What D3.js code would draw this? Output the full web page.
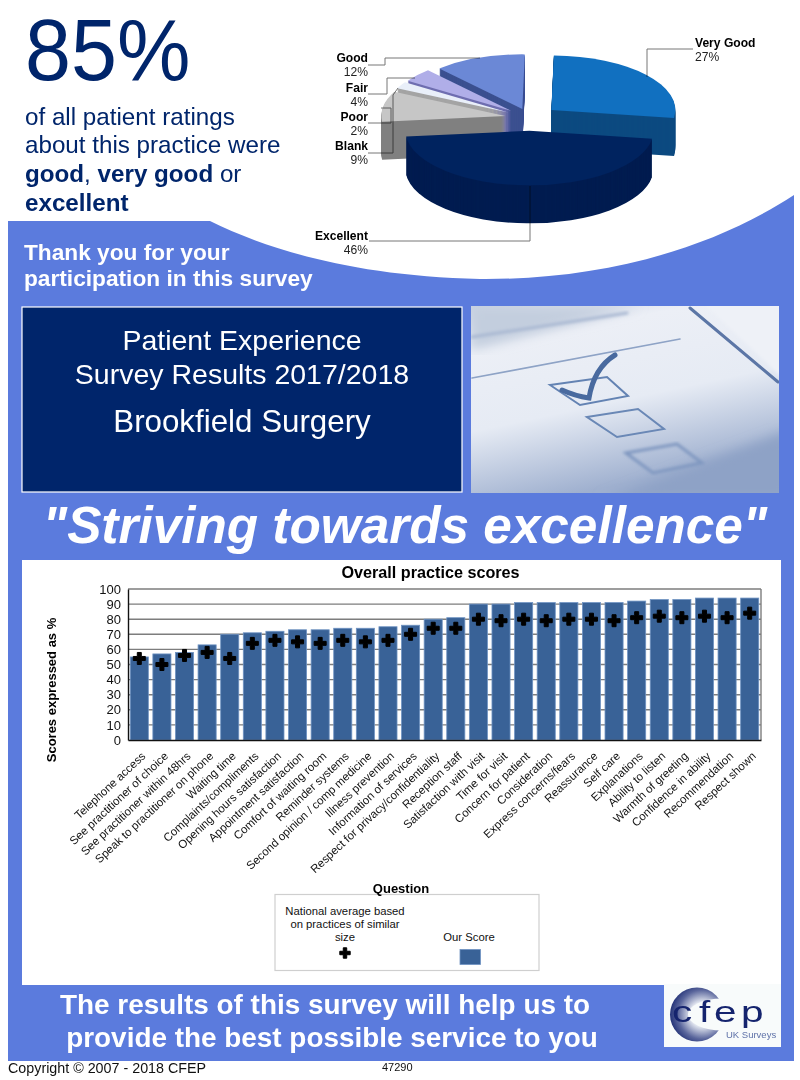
<!DOCTYPE html>
<html>
<head>
<meta charset="utf-8">
<script src="https://cdn.jsdelivr.net/npm/d3@7"></script>
<style>
    html, body { margin: 0; padding: 0; background: #fff; }
    svg { display: block; font-family: "Liberation Sans", Arial, sans-serif; }
</style>
</head>
<body>
<svg id="poster" width="800" height="1080"></svg>
<script>
// pie data, clockwise from the top
let ratingNames = ["Very Good", "Excellent", "Blank", "Poor", "Fair", "Good"];
let ratingPercents = [27, 46, 9, 2, 4, 12];
let ratingTops = ["#1170c0", "#00235f", "#c6c6c6", "#e9eff9", "#b0aee8", "#6b88d6"];
let ratingSides = ["#0c4a80", "#001c50", "#808080", "#a4a4a4", "#6f6eb0", "#3b5090"];
let ratingExplode = [28, 29, 25, 25, 25, 22];
let ratingDrawOrder = ["Good", "Fair", "Poor", "Blank", "Very Good", "Excellent"];

// bar chart data
let questions = ["Telephone access", "See practitioner of choice", "See practitioner within 48hrs",
    "Speak to practitioner on phone", "Waiting time", "Complaints/compliments",
    "Opening hours satisfaction", "Appointment satisfaction", "Comfort of waiting room",
    "Reminder systems", "Second opinion / comp medicine", "Illness prevention",
    "Information of services", "Respect for privacy/confidentiality", "Reception staff",
    "Satisfaction with visit", "Time for visit", "Concern for patient", "Consideration",
    "Express concerns/fears", "Reassurance", "Self care", "Explanations", "Ability to listen",
    "Warmth of greeting", "Confidence in ability", "Recommendation", "Respect shown"];
let ourScores = [55, 57, 58, 63, 70, 71, 72, 73, 73, 74, 74, 75, 76, 80, 81,
    90, 90, 91, 91, 91, 91, 91, 92, 93, 93, 94, 94, 94];
let nationalScores = [54, 50, 56, 58, 54, 64, 66, 65, 64, 66, 65, 66, 70, 74, 74,
    80, 79, 80, 79, 80, 80, 79, 81, 82, 81, 82, 81, 84];
let scoreTicks = [0, 10, 20, 30, 40, 50, 60, 70, 80, 90, 100];

const BLUE = "#5b7bdd", NAVY = "#00256b", BAR = "#396297";

let svg = d3.select("#poster");
let defs = svg.append("defs");

function addText(parent, str, x, y, size, fill, opts) {
    opts = opts || {};
    return parent.append("text")
        .attr("x", x).attr("y", y)
        .attr("font-size", size)
        .attr("fill", fill)
        .attr("font-weight", opts.weight || "normal")
        .attr("font-style", opts.style || "normal")
        .attr("text-anchor", opts.anchor || "start")
        .text(str);
}

// ---------- blue background
svg.append("path")
    .attr("d", "M8,221 L210,221 C265,248 350,276 480,279 C600,280 710,250 794,195 L794,1061 L8,1061 Z")
    .attr("fill", BLUE);

// ---------- headline
addText(svg, "85%", 0, 0, 87, NAVY).attr("transform", "translate(25,80) scale(0.95,1)");
addText(svg, "of all patient ratings", 25, 125, 24.2, NAVY);
addText(svg, "about this practice were", 25, 153, 24.2, NAVY);
let line3 = addText(svg, "", 25, 182, 24.2, NAVY);
line3.append("tspan").attr("font-weight", "bold").text("good");
line3.append("tspan").text(", ");
line3.append("tspan").attr("font-weight", "bold").text("very good");
line3.append("tspan").text(" or");
addText(svg, "excellent", 25, 211, 24.2, NAVY, {weight: "bold"});
addText(svg, "Thank you for your", 24, 260, 22.7, "#fff", {weight: "bold"});
addText(svg, "participation in this survey", 24, 286, 22.7, "#fff", {weight: "bold"});

// ---------- 3D pie
let pieCx = 530, pieCy = 118, pieR = 124, squash = 0.44, pieDepth = 38;
let pieGen = d3.pie().sort(null).startAngle(0.02).endAngle(Math.PI * 2 + 0.02);
let sliceArc = d3.arc().innerRadius(0).outerRadius(pieR);
let slices = pieGen(ratingPercents).map((d, i) => ({
    name: ratingNames[i], arc: d, top: ratingTops[i], side: ratingSides[i], explode: ratingExplode[i]
}));
slices.sort((a, b) => ratingDrawOrder.indexOf(a.name) - ratingDrawOrder.indexOf(b.name));

let pieGroup = svg.append("g");
slices.forEach(s => {
    let mid = (s.arc.startAngle + s.arc.endAngle) / 2;
    let dx = Math.sin(mid) * s.explode;
    let dy = -Math.cos(mid) * s.explode * squash;
    // stacked copies build up the wall of the slice
    d3.range(pieDepth, 0, -1).forEach(z => {
        pieGroup.append("path")
            .attr("d", sliceArc(s.arc))
            .attr("fill", s.side)
            .attr("transform", `translate(${pieCx + dx},${pieCy + dy + z}) scale(1,${squash})`);
    });
    pieGroup.append("path")
        .attr("d", sliceArc(s.arc))
        .attr("fill", s.top)
        .attr("transform", `translate(${pieCx + dx},${pieCy + dy}) scale(1,${squash})`);
});

// leader lines for the pie labels
let leaderPaths = [
    "M647,77 L647,49 L693,49",
    "M530,186 L530,241 L369,241",
    "M368,65 L385,65 L385,58 L480,58",
    "M368,94 L387,94 L387,78 L415,78",
    "M368,123 L391,123 L391,108 L381,108",
    "M368,153 L393,153 L393,95 L398,88"
];
svg.append("g").selectAll("path")
    .data(leaderPaths).enter()
    .append("path")
    .attr("d", d => d)
    .attr("fill", "none")
    .attr("stroke", "#777")
    .attr("stroke-width", 1)
    .style("mix-blend-mode", "multiply");

// label rows follow the order of ratingNames
let labelAt = {
    "Very Good": [695, 46.5, "start"], "Excellent": [368, 240, "end"], "Blank": [368, 150, "end"],
    "Poor": [368, 121, "end"], "Fair": [368, 91.5, "end"], "Good": [368, 62, "end"]
};
ratingNames.forEach((name, i) => {
    let at = labelAt[name];
    addText(svg, name, at[0], at[1], 12.1, "#000", {weight: "bold", anchor: at[2]});
    addText(svg, ratingPercents[i] + "%", at[0], at[1] + 14, 12.1, "#222", {anchor: at[2]});
});

// ---------- title box
svg.append("rect").attr("x", 22).attr("y", 307).attr("width", 440).attr("height", 185)
    .attr("fill", NAVY).attr("stroke", "#fff").attr("stroke-width", 1.2);
addText(svg, "Patient Experience", 242, 350, 28.5, "#fff", {anchor: "middle"});
addText(svg, "Survey Results 2017/2018", 242, 384, 28.5, "#fff", {anchor: "middle"});
addText(svg, "Brookfield Surgery", 242, 432, 31.3, "#fff", {anchor: "middle"});

// ---------- checkbox picture
let photoGrad = defs.append("linearGradient").attr("id", "photoGrad")
    .attr("x1", 0).attr("y1", 0).attr("x2", 0.35).attr("y2", 1);
photoGrad.append("stop").attr("offset", "0").attr("stop-color", "#c9d2e2");
photoGrad.append("stop").attr("offset", "0.22").attr("stop-color", "#eceff6");
photoGrad.append("stop").attr("offset", "0.6").attr("stop-color", "#e6ebf4");
photoGrad.append("stop").attr("offset", "1").attr("stop-color", "#9fb0cf");
defs.append("clipPath").attr("id", "photoClip").append("rect")
    .attr("x", 471).attr("y", 306).attr("width", 308).attr("height", 187);
defs.append("filter").attr("id", "blur1").append("feGaussianBlur").attr("stdDeviation", 0.7);
defs.append("filter").attr("id", "blur2").append("feGaussianBlur").attr("stdDeviation", 1.6);
defs.append("filter").attr("id", "blur6").append("feGaussianBlur").attr("stdDeviation", 6);

let photo = svg.append("g").attr("clip-path", "url(#photoClip)");
photo.append("rect").attr("x", 471).attr("y", 306).attr("width", 308).attr("height", 187)
    .attr("fill", "url(#photoGrad)");
photo.append("path").attr("d", "M471,306 L640,306 L471,350 Z").attr("fill", "#c3cede").attr("filter", "url(#blur6)");
photo.append("path").attr("d", "M700,300 L790,300 L790,385 Z").attr("fill", "#eef1f7").attr("filter", "url(#blur2)");
photo.append("path").attr("d", "M600,500 L790,430 L790,500 Z").attr("fill", "#8ea2c6").attr("filter", "url(#blur6)");
let photoLines = [
    {d: "M472,337 L627,313", c: "#a9b8d2", w: 3, f: "blur2"},
    {d: "M472,378 L680,339", c: "#8ea3c6", w: 1.6, f: "blur1"},
    {d: "M690,308 L778,382", c: "#5b76a6", w: 3, f: "blur1"},
    {d: "M550,385 L607,377 L628,396 L580,405 Z", c: "#6483b3", w: 2, f: "blur1"},
    {d: "M587,417 L638,409 L664,429 L617,437 Z", c: "#6a88b6", w: 2, f: "blur1"},
    {d: "M626,453 L677,444 L702,463 L653,473 Z", c: "#7f97c0", w: 3, f: "blur2"},
    {d: "M562,390 Q575,396 589,398 Q594,368 615,355", c: "#486a9f", w: 5, f: "blur1"}
];
photo.selectAll("path.stroke")
    .data(photoLines).enter()
    .append("path")
    .attr("class", "stroke")
    .attr("d", d => d.d)
    .attr("fill", "none")
    .attr("stroke", d => d.c)
    .attr("stroke-width", d => d.w)
    .attr("stroke-linecap", "round")
    .attr("filter", d => "url(#" + d.f + ")");

// ---------- slogan
addText(svg, "\"Striving towards excellence\"", 405, 543, 51.3, "#fff", {weight: "bold", style: "italic", anchor: "middle"});

// ---------- chart panel
svg.append("rect").attr("x", 22).attr("y", 560).attr("width", 759).attr("height", 425).attr("fill", "#fff");
addText(svg, "Overall practice scores", 430.5, 578, 16.2, "#000", {weight: "bold", anchor: "middle"});

let plot = {left: 128, right: 761, top: 589, bottom: 740};
let x = d3.scaleBand().domain(questions).range([plot.left, plot.right]).paddingInner(0.2).paddingOuter(0.1);
let y = d3.scaleLinear().domain([0, 100]).range([plot.bottom, plot.top]);

let chart = svg.append("g");

// gridlines sit behind the bars
chart.append("g").selectAll("line")
    .data(scoreTicks.filter(t => t > 0)).enter()
    .append("line")
    .attr("x1", plot.left).attr("x2", plot.right)
    .attr("y1", d => y(d)).attr("y2", d => y(d))
    .attr("stroke", "#7d7d7d").attr("stroke-width", 1.4);
chart.append("line").attr("x1", plot.right).attr("x2", plot.right)
    .attr("y1", plot.top).attr("y2", plot.bottom)
    .attr("stroke", "#7d7d7d").attr("stroke-width", 1.4);

chart.append("g").selectAll("rect")
    .data(questions).enter()
    .append("rect")
    .attr("x", d => x(d))
    .attr("y", (d, i) => y(ourScores[i]))
    .attr("width", x.bandwidth())
    .attr("height", (d, i) => plot.bottom - y(ourScores[i]))
    .attr("fill", BAR)
    .attr("stroke", "#6f93c2")
    .attr("stroke-width", 0.8);

let axisY = d3.axisLeft(y).tickValues(scoreTicks).tickSize(0).tickPadding(7);
let axisX = d3.axisBottom(x).tickSize(0).tickPadding(0);
let yAxisG = chart.append("g").attr("transform", `translate(${plot.left},0)`).call(axisY);
yAxisG.selectAll("text").attr("font-size", 13).attr("font-family", null).attr("fill", "#111");
yAxisG.select(".domain").attr("stroke", "#111").attr("stroke-width", 1.4);

let xAxisG = chart.append("g").attr("transform", `translate(0,${plot.bottom})`).call(axisX);
xAxisG.select(".domain").attr("stroke", "#111").attr("stroke-width", 1.4);
xAxisG.selectAll("text")
    .attr("font-size", 11.5)
    .attr("font-family", null)
    .attr("fill", "#111")
    .attr("text-anchor", "end")
    .attr("dy", 0)
    .attr("transform", "translate(7,17) rotate(-43)");

let crossPath = d3.symbol().type(d3.symbolCross).size(80)();
chart.append("g").selectAll("path")
    .data(questions).enter()
    .append("path")
    .attr("d", crossPath)
    .attr("fill", "#000")
    .attr("stroke", "#000")
    .attr("stroke-width", 1)
    .attr("transform", (d, i) => `translate(${x(d) + x.bandwidth() / 2},${y(nationalScores[i])})`);

addText(chart, "Scores expressed as %", 0, 0, 13, "#000", {weight: "bold", anchor: "middle"})
    .attr("transform", "translate(56,690) rotate(-90)");

// ---------- legend
let legend = svg.append("g");
legend.append("rect").attr("x", 275).attr("y", 894.5).attr("width", 264).attr("height", 76)
    .attr("fill", "#fff").attr("stroke", "#cfcfcf").attr("stroke-width", 1.2);
["National average based", "on practices of similar", "size"].forEach((t, i) => {
    addText(legend, t, 345, 915 + i * 13, 11.3, "#111", {anchor: "middle"});
});
addText(legend, "Our Score", 469, 941, 11.3, "#111", {anchor: "middle"});
legend.append("path").attr("d", d3.symbol().type(d3.symbolCross).size(60)())
    .attr("transform", "translate(345,953)").attr("fill", "#000").attr("stroke", "#000").attr("stroke-width", 1);
legend.append("rect").attr("x", 460).attr("y", 949.5).attr("width", 20.5).attr("height", 15)
    .attr("fill", BAR).attr("stroke", "#6f93c2").attr("stroke-width", 0.8);
addText(svg, "Question", 401, 893, 13, "#000", {weight: "bold", anchor: "middle"});

// ---------- footer banner
addText(svg, "The results of this survey will help us to", 325, 1014, 27.9, "#fff", {weight: "bold", anchor: "middle"});
addText(svg, "provide the best possible service to you", 332, 1047, 27.9, "#fff", {weight: "bold", anchor: "middle"});
addText(svg, "Copyright © 2007 - 2018 CFEP", 8, 1073, 14.3, "#111");
addText(svg, "47290", 382, 1071, 11, "#111");

// ---------- logo
svg.append("rect").attr("x", 664).attr("y", 984).attr("width", 117).attr("height", 63).attr("fill", "#f8fbfb");
let logoGrad = defs.append("radialGradient").attr("id", "logoGrad")
    .attr("cx", "0.6").attr("cy", "0.5").attr("r", "0.65");
logoGrad.append("stop").attr("offset", "0.35").attr("stop-color", "#e3e7f0");
logoGrad.append("stop").attr("offset", "0.7").attr("stop-color", "#5a669c");
logoGrad.append("stop").attr("offset", "1").attr("stop-color", "#10206a");
svg.append("circle").attr("cx", 697).attr("cy", 1014.5).attr("r", 27).attr("fill", "url(#logoGrad)");
svg.append("ellipse").attr("cx", 722).attr("cy", 1014.5).attr("rx", 34).attr("ry", 16).attr("fill", "#f8fbfb");
// letters are set one by one, the logo type is much wider than any installed font
[["c", 672], ["f", 699], ["e", 714], ["p", 741]].forEach(l => {
    addText(svg, l[0], 0, 0, 30, "#15246e").attr("transform", `translate(${l[1]},1022) scale(1.35,1)`);
});
addText(svg, "UK Surveys", 726, 1038, 9.5, "#5f72a8");
</script>
</body>
</html>
